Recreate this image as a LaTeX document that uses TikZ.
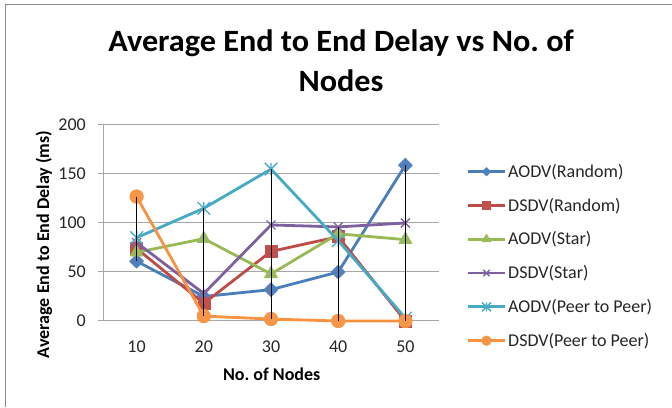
\documentclass[tikz,border=0pt]{standalone}
\usepackage{fontspec}
\setmainfont{Carlito}
\frenchspacing
\usetikzlibrary{plotmarks}
\definecolor{cAl}{HTML}{4A7EBB}\definecolor{cAm}{HTML}{4F81BD}
\definecolor{cBl}{HTML}{BE4B48}\definecolor{cBm}{HTML}{C0504D}
\definecolor{cCl}{HTML}{98B954}\definecolor{cCm}{HTML}{9BBB59}
\definecolor{cDl}{HTML}{7D60A0}\definecolor{cDm}{HTML}{8064A2}
\definecolor{cEl}{HTML}{46AAC5}\definecolor{cEm}{HTML}{4BACC6}
\definecolor{cFl}{HTML}{F69240}\definecolor{cFm}{HTML}{F79646}
\definecolor{gridc}{HTML}{A6A6A6}
\definecolor{framec}{HTML}{8C8C8C}
\pgfdeclareplotmark{sqdiamond}{%
  \pgfpathmoveto{\pgfqpoint{0pt}{\pgfplotmarksize}}%
  \pgfpathlineto{\pgfqpoint{\pgfplotmarksize}{0pt}}%
  \pgfpathlineto{\pgfqpoint{0pt}{-\pgfplotmarksize}}%
  \pgfpathlineto{\pgfqpoint{-\pgfplotmarksize}{0pt}}%
  \pgfpathclose\pgfusepathqfillstroke}
\pgfdeclareplotmark{xstar}{%
  \pgfpathmoveto{\pgfqpoint{-\pgfplotmarksize}{-\pgfplotmarksize}}%
  \pgfpathlineto{\pgfqpoint{\pgfplotmarksize}{\pgfplotmarksize}}%
  \pgfpathmoveto{\pgfqpoint{-\pgfplotmarksize}{\pgfplotmarksize}}%
  \pgfpathlineto{\pgfqpoint{\pgfplotmarksize}{-\pgfplotmarksize}}%
  \pgfpathmoveto{\pgfqpoint{0pt}{-\pgfplotmarksize}}%
  \pgfpathlineto{\pgfqpoint{0pt}{\pgfplotmarksize}}%
  \pgfusepathqstroke}
\newcommand\legentry[4]{%
  \draw[#2] (468,{235.3-33.8*#1}) -- (505,{235.3-33.8*#1});
  \path[#2] plot[only marks, mark size=#3] coordinates {(486.5,{235.3-33.8*#1})};
  \node[legtext, anchor=base west] (leg#1) at (508,{235.3-33.8*#1-5.6}) {#4};}
\begin{document}
\begin{tikzpicture}[x=1pt,y=1pt,
  framestyle/.style={draw=framec, line width=1.4pt},
  gridline/.style={draw=gridc, line width=1pt},
  ticklab/.style={inner sep=0pt, font=\fontsize{18}{21}\selectfont, text=black!85},
  axtitle/.style={inner sep=0pt, font=\fontsize{18}{21}\selectfont\bfseries},
  legtext/.style={inner sep=0pt, font=\fontsize{18}{21}\selectfont, text=black!85},
  titletext/.style={inner sep=0pt, font=\fontsize{31}{36}\selectfont\bfseries, xscale=1.04},
  serie/.style={line width=2.8pt, line join=round},
  sA/.style={serie, color=cAl, mark=sqdiamond, mark size=7pt, mark options={fill=cAm, draw=cAm, line width=0.6pt}},
  sB/.style={serie, color=cBl, mark=square*, mark size=6pt, mark options={fill=cBm, draw=cBm, line width=0.6pt}},
  sC/.style={serie, color=cCl, mark=triangle*, mark size=7.6pt, mark options={fill=cCm, draw=cCm, line width=0.6pt}},
  sD/.style={serie, color=cDl, mark=x, mark size=6.3pt, mark options={draw=cDm, line width=1.3pt}},
  sE/.style={serie, color=cEl, mark=xstar, mark size=6.3pt, mark options={draw=cEm, line width=1.3pt}},
  sF/.style={serie, color=cFl, mark=*, mark size=6.8pt, mark options={fill=cFm, draw=cFm, line width=0.6pt}},
  hilo/.style={draw=black, line width=0.9pt}]
\useasboundingbox (0,0) rectangle (672,407);
\fill[white] (0,0) rectangle (672,407);
\draw[framestyle] (5.5,0) -- (5.5,402.5) -- (672,402.5);
% title
\node[titletext, anchor=base] (title1) at (341,355.3) {Average End to End Delay vs No. of};
\node[titletext, anchor=base] (title2) at (341,315.3) {Nodes};
% axis titles
\node[axtitle, rotate=90] (ytitle) at (44,162.5) {Average End to End Delay (ms)};
\node[axtitle, anchor=base] (xtitle) at (271.7,27) {No. of Nodes};
\begin{scope}[shift={(136.6,86)}, x=67.2pt, y=0.98pt]
  \foreach \v in {50,100,150,200} \draw[gridline] (-0.5,\v) -- (4.5,\v);
  \foreach \v in {0,50,100,150,200} {
    \draw[gridline] ([xshift=-5pt]-0.5,\v) -- (-0.5,\v);
    \node[ticklab, anchor=east] (yl\v) at ([xshift=-17pt]-0.5,\v) {\v};
  }
  \draw[gridline] (-0.5,0) -- (4.5,0);
  \draw[gridline] (-0.5,0) -- (-0.5,200);
  \foreach \i/\l in {0/10,1/20,2/30,3/40,4/50}
    \node[ticklab] (xl\l) at ([yshift=-25.5pt]\i,0) {\l};
  \draw[sA] plot coordinates {(0,61) (1,25) (2,32) (3,50) (4,159)};
  \draw[sB] plot coordinates {(0,74) (1,18) (2,71) (3,86) (4,0)};
  \draw[sC] plot coordinates {(0,70) (1,84) (2,48) (3,89) (4,83)};
  \draw[sD] plot coordinates {(0,80) (1,28) (2,98) (3,96) (4,100)};
  \draw[sE] plot coordinates {(0,85) (1,115) (2,155) (3,82) (4,3)};
  \draw[sF] plot coordinates {(0,127) (1,5) (2,2) (3,0) (4,0)};
  \foreach \i/\hi/\lo in {0/127/61,1/115/5,2/155/2,3/96/0,4/159/0}
    \draw[hilo] (\i,\hi) -- (\i,\lo);
\end{scope}
% legend
\legentry{0}{sA}{4.2pt}{AODV(Random)}
\legentry{1}{sB}{4.2pt}{DSDV(Random)}
\legentry{2}{sC}{5.2pt}{AODV(Star)}
\legentry{3}{sD}{4.5pt}{DSDV(Star)}
\legentry{4}{sE}{4.5pt}{AODV(Peer to Peer)}
\legentry{5}{sF}{4.8pt}{DSDV(Peer to Peer)}
\end{tikzpicture}
\end{document}
